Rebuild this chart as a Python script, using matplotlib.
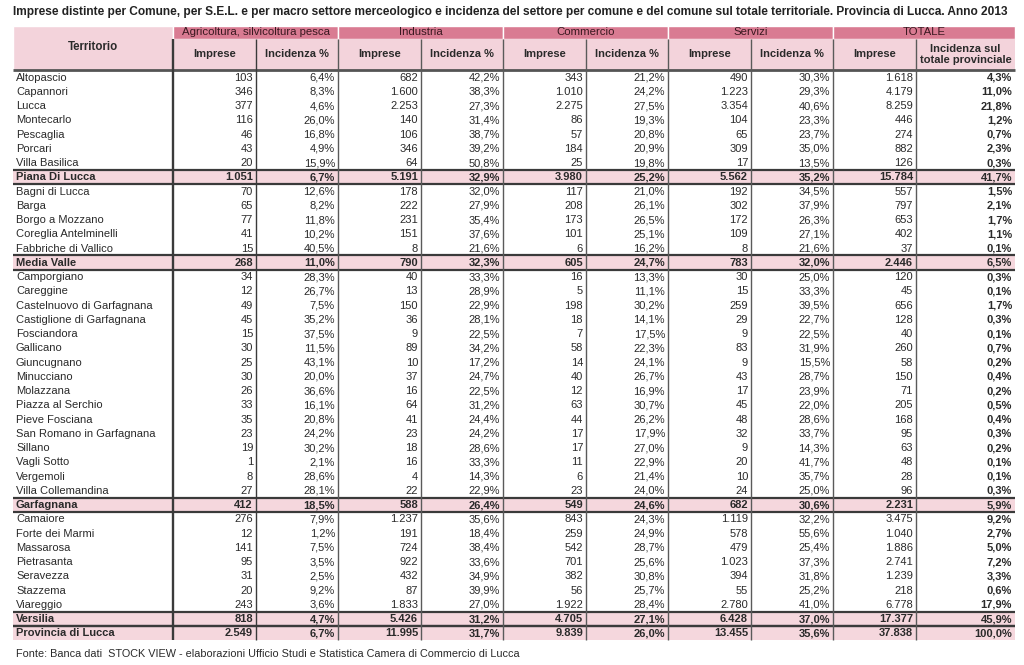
import matplotlib
matplotlib.use("Agg")
import matplotlib.pyplot as plt
from matplotlib.patches import Rectangle

# ---------------- data ----------------
titolo = ("Imprese distinte per Comune, per S.E.L. e per macro settore merceologico e incidenza "
          "del settore per comune e del comune sul totale territoriale. Provincia di Lucca. Anno 2013")
fonte = "Fonte: Banca dati  STOCK VIEW - elaborazioni Ufficio Studi e Statistica Camera di Commercio di Lucca"

settori = ["Agricoltura, silvicoltura pesca", "Industria", "Commercio", "Servizi", "TOTALE"]
sotto_intestazioni = ["Imprese", "Incidenza %", "Imprese", "Incidenza %", "Imprese", "Incidenza %",
                      "Imprese", "Incidenza %", "Imprese", "Incidenza sul\ntotale provinciale"]

territori = [
    "Altopascio", "Capannori", "Lucca", "Montecarlo", "Pescaglia", "Porcari", "Villa Basilica",
    "Piana Di Lucca",
    "Bagni di Lucca", "Barga", "Borgo a Mozzano", "Coreglia Antelminelli", "Fabbriche di Vallico",
    "Media Valle",
    "Camporgiano", "Careggine", "Castelnuovo di Garfagnana", "Castiglione di Garfagnana",
    "Fosciandora", "Gallicano", "Giuncugnano", "Minucciano", "Molazzana", "Piazza al Serchio",
    "Pieve Fosciana", "San Romano in Garfagnana", "Sillano", "Vagli Sotto", "Vergemoli",
    "Villa Collemandina",
    "Garfagnana",
    "Camaiore", "Forte dei Marmi", "Massarosa", "Pietrasanta", "Seravezza", "Stazzema", "Viareggio",
    "Versilia",
    "Provincia di Lucca",
]
righe_totale = ["Piana Di Lucca", "Media Valle", "Garfagnana", "Versilia", "Provincia di Lucca"]

agr_imprese = [103, 346, 377, 116, 46, 43, 20, 1051,
               70, 65, 77, 41, 15, 268,
               34, 12, 49, 45, 15, 30, 25, 30, 26, 33, 35, 23, 19, 1, 8, 27, 412,
               276, 12, 141, 95, 31, 20, 243, 818, 2549]
agr_inc = [6.4, 8.3, 4.6, 26.0, 16.8, 4.9, 15.9, 6.7,
           12.6, 8.2, 11.8, 10.2, 40.5, 11.0,
           28.3, 26.7, 7.5, 35.2, 37.5, 11.5, 43.1, 20.0, 36.6, 16.1, 20.8, 24.2, 30.2, 2.1, 28.6, 28.1, 18.5,
           7.9, 1.2, 7.5, 3.5, 2.5, 9.2, 3.6, 4.7, 6.7]
ind_imprese = [682, 1600, 2253, 140, 106, 346, 64, 5191,
               178, 222, 231, 151, 8, 790,
               40, 13, 150, 36, 9, 89, 10, 37, 16, 64, 41, 23, 18, 16, 4, 22, 588,
               1237, 191, 724, 922, 432, 87, 1833, 5426, 11995]
ind_inc = [42.2, 38.3, 27.3, 31.4, 38.7, 39.2, 50.8, 32.9,
           32.0, 27.9, 35.4, 37.6, 21.6, 32.3,
           33.3, 28.9, 22.9, 28.1, 22.5, 34.2, 17.2, 24.7, 22.5, 31.2, 24.4, 24.2, 28.6, 33.3, 14.3, 22.9, 26.4,
           35.6, 18.4, 38.4, 33.6, 34.9, 39.9, 27.0, 31.2, 31.7]
com_imprese = [343, 1010, 2275, 86, 57, 184, 25, 3980,
               117, 208, 173, 101, 6, 605,
               16, 5, 198, 18, 7, 58, 14, 40, 12, 63, 44, 17, 17, 11, 6, 23, 549,
               843, 259, 542, 701, 382, 56, 1922, 4705, 9839]
com_inc = [21.2, 24.2, 27.5, 19.3, 20.8, 20.9, 19.8, 25.2,
           21.0, 26.1, 26.5, 25.1, 16.2, 24.7,
           13.3, 11.1, 30.2, 14.1, 17.5, 22.3, 24.1, 26.7, 16.9, 30.7, 26.2, 17.9, 27.0, 22.9, 21.4, 24.0, 24.6,
           24.3, 24.9, 28.7, 25.6, 30.8, 25.7, 28.4, 27.1, 26.0]
ser_imprese = [490, 1223, 3354, 104, 65, 309, 17, 5562,
               192, 302, 172, 109, 8, 783,
               30, 15, 259, 29, 9, 83, 9, 43, 17, 45, 48, 32, 9, 20, 10, 24, 682,
               1119, 578, 479, 1023, 394, 55, 2780, 6428, 13455]
ser_inc = [30.3, 29.3, 40.6, 23.3, 23.7, 35.0, 13.5, 35.2,
           34.5, 37.9, 26.3, 27.1, 21.6, 32.0,
           25.0, 33.3, 39.5, 22.7, 22.5, 31.9, 15.5, 28.7, 23.9, 22.0, 28.6, 33.7, 14.3, 41.7, 35.7, 25.0, 30.6,
           32.2, 55.6, 25.4, 37.3, 31.8, 25.2, 41.0, 37.0, 35.6]
tot_imprese = [1618, 4179, 8259, 446, 274, 882, 126, 15784,
               557, 797, 653, 402, 37, 2446,
               120, 45, 656, 128, 40, 260, 58, 150, 71, 205, 168, 95, 63, 48, 28, 96, 2231,
               3475, 1040, 1886, 2741, 1239, 218, 6778, 17377, 37838]
tot_inc = [4.3, 11.0, 21.8, 1.2, 0.7, 2.3, 0.3, 41.7,
           1.5, 2.1, 1.7, 1.1, 0.1, 6.5,
           0.3, 0.1, 1.7, 0.3, 0.1, 0.7, 0.2, 0.4, 0.2, 0.5, 0.4, 0.3, 0.2, 0.1, 0.1, 0.3, 5.9,
           9.2, 2.7, 5.0, 7.2, 3.3, 0.6, 17.9, 45.9, 100.0]

colonne = [agr_imprese, agr_inc, ind_imprese, ind_inc, com_imprese, com_inc,
           ser_imprese, ser_inc, tot_imprese, tot_inc]
tipi = ["int", "pct"] * 5


def fmt(v, kind):
    if kind == "int":
        return f"{v:,}".replace(",", ".")
    return f"{v:.1f}".replace(".", ",") + "%"


# ---------------- style ----------------
FONT = ["Liberation Sans", "DejaVu Sans"]
plt.rcParams["font.family"] = FONT
DARK_PINK = "#d97b92"
LIGHT_PINK = "#f3d3db"
TOT_PINK = "#f5d7dd"
TXT = "#2a2a2a"
HDR_TXT = "#3a1820"
LINE = "#3a3a3a"
LINE_LIGHT = "#5a5a5a"

W, H = 1024, 665
fig = plt.figure(figsize=(W / 100, H / 100), dpi=100)
ax = fig.add_axes([0, 0, 1, 1])
ax.set_xlim(0, W)
ax.set_ylim(H, 0)
ax.axis("off")

col_x = [13, 173, 256, 338, 421, 503, 586, 668, 751, 833, 916, 1015]
y_h1, y_h2, y_d = 25.5, 38.5, 70.2
rh = 14.25
n = len(territori)
y_end = y_d + n * rh
FS = 8.0
BASE = 3.3  # baseline offset below row centre (px)

# title (fit width)
t = ax.text(col_x[0], 15, titolo, ha="left", va="baseline", fontsize=9, fontweight="bold", color="#222")
fig.canvas.draw()
wpx = t.get_window_extent().width
t.set_fontsize(9 * 1000 / wpx)

# header
ax.add_patch(Rectangle((col_x[0], y_h1), col_x[1] - col_x[0], y_d - y_h1,
                       facecolor=LIGHT_PINK, edgecolor="white", lw=1))
ax.text((col_x[0] + col_x[1]) / 2, 47.5, "Territorio", ha="center", va="center",
        fontsize=8.3, fontweight="bold", color=TXT)
for g, nome in enumerate(settori):
    x0, x1 = col_x[1 + 2 * g], col_x[3 + 2 * g]
    ax.add_patch(Rectangle((x0, y_h1), x1 - x0, y_h2 - y_h1, facecolor=DARK_PINK,
                           edgecolor="white", lw=1))
    ax.text((x0 + x1) / 2, (y_h1 + y_h2) / 2 + BASE, nome, ha="center", va="baseline",
            fontsize=8.2, color=HDR_TXT)
for c, nome in enumerate(sotto_intestazioni):
    x0, x1 = col_x[1 + c], col_x[2 + c]
    ax.add_patch(Rectangle((x0, y_h2), x1 - x0, y_d - y_h2, facecolor=LIGHT_PINK,
                           edgecolor="none"))
    ax.text((x0 + x1) / 2, (y_h2 + y_d) / 2, nome, ha="center", va="center",
            fontsize=8.0, fontweight="bold", color=TXT, linespacing=1.05)

# rows
for i, nome in enumerate(territori):
    yt = y_d + i * rh
    yb = yt + rh / 2 + BASE
    is_tot = nome in righe_totale
    if is_tot:
        ax.add_patch(Rectangle((col_x[0], yt), col_x[-1] - col_x[0], rh,
                               facecolor=TOT_PINK, edgecolor="none"))
    w = "bold" if is_tot else "normal"
    ax.text(col_x[0] + 3, yb, nome, ha="left", va="baseline", fontsize=FS,
            fontweight=w, color=TXT)
    for c, (vals, kind) in enumerate(zip(colonne, tipi)):
        wc = "bold" if (is_tot or c == 9) else "normal"
        ax.text(col_x[2 + c] - 3, yb, fmt(vals[i], kind), ha="right", va="baseline",
                fontsize=FS, fontweight=wc, color=TXT)

# horizontal lines
ax.plot([col_x[0], col_x[-1]], [y_d, y_d], color="#555", lw=2, solid_capstyle="butt")
for i, nome in enumerate(territori):
    if nome in righe_totale:
        yt = y_d + i * rh
        ax.plot([col_x[0], col_x[-1]], [yt, yt], color=LINE, lw=1.6, solid_capstyle="butt")
        if i < n - 1:
            yb = yt + rh
            ax.plot([col_x[0], col_x[-1]], [yb, yb], color=LINE, lw=1.6, solid_capstyle="butt")

# vertical lines
for k, x in enumerate(col_x[1:-1]):
    lw = 1.7 if k == 0 else 1.0
    col = LINE if k in (0, 1) else LINE_LIGHT
    ax.plot([x, x], [y_h2, y_end], color=col, lw=lw, solid_capstyle="butt")

# source
s = ax.text(col_x[0] + 3, 657, fonte, ha="left", va="baseline", fontsize=7.5, color=TXT)
fig.canvas.draw()
wpx = s.get_window_extent().width
s.set_fontsize(7.5 * 497 / wpx)

fig.savefig("out.png", dpi=100)
